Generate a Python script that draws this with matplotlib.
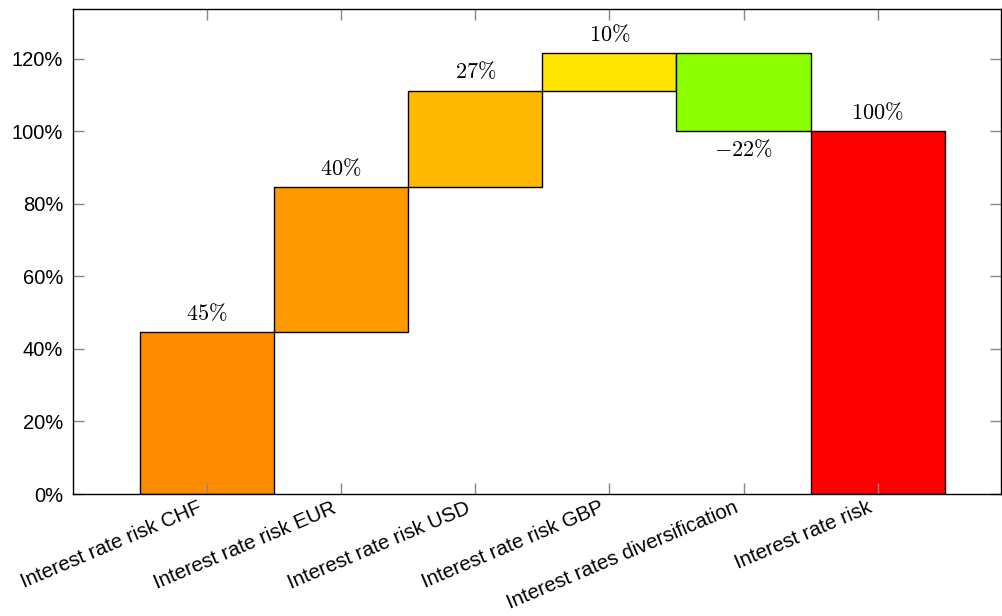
import numpy as np
import matplotlib
matplotlib.use('Agg')
import matplotlib.pyplot as plt
import matplotlib.transforms as mtrans

plt.rcParams['font.family'] = ['Liberation Sans', 'DejaVu Sans']
plt.rcParams['mathtext.fontset'] = 'cm'

categories = ['Interest rate risk CHF', 'Interest rate risk EUR', 'Interest rate risk USD',
              'Interest rate risk GBP', 'Interest rates diversification', 'Interest rate risk']
changes = [44.7, 40.0, 26.5, 10.3, -21.5]
total = 100.0
labels = ['45', '40', '27', '10', '-22', '100']
colors = ['#FF8C00', '#FF9900', '#FFB900', '#FFE500', '#8CFF00', '#FF0000']

# waterfall bottoms / heights
ends = np.cumsum(changes)
starts = ends - np.array(changes)
bottoms = list(starts) + [0]
heights = list(changes) + [total]

fig = plt.figure(figsize=(10.03, 6.16), dpi=100)
ax = fig.add_axes([0.0728, 0.198, 0.9252, 0.787])

x = np.arange(len(categories))
ax.bar(x, heights, bottom=bottoms, width=1.0, color=colors, edgecolor='black', linewidth=1)

for i in range(len(categories)):
    h = heights[i]
    b = bottoms[i]
    if h >= 0:
        ax.annotate('$' + labels[i] + r'\%$', (x[i], b + h), xytext=(0, 5),
                    textcoords='offset points', ha='center', va='bottom', fontsize=16)
    else:
        ax.annotate('$' + labels[i] + r'\%$', (x[i], b + h), xytext=(0, -6),
                    textcoords='offset points', ha='center', va='top', fontsize=16)

ax.set_xlim(-1, 5.92)
ax.set_ylim(0, 133.6)
ax.set_yticks([0, 20, 40, 60, 80, 100, 120])
ax.set_yticklabels(['%d%%' % v for v in [0, 20, 40, 60, 80, 100, 120]], fontsize=14.5)
ax.set_xticks(x)
ax.set_xticklabels(categories, rotation=23, ha='right', rotation_mode='anchor', fontsize=14.8)
ax.tick_params(axis='both', direction='in', length=8, color='#888888', width=1,
               top=True, right=True)
ax.tick_params(axis='y', pad=7)
ax.tick_params(axis='x', pad=3)
shift = mtrans.ScaledTranslation(-10 / 100, 0, fig.dpi_scale_trans)
for lab in ax.get_xticklabels():
    lab.set_transform(lab.get_transform() + shift)
for s in ax.spines.values():
    s.set_linewidth(1)
    s.set_color('black')

fig.savefig('out.png', dpi=100)
